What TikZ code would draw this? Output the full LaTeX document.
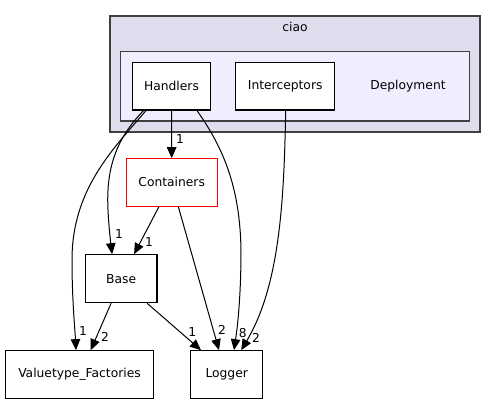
\documentclass[tikz,border=0pt]{standalone}
\usepackage{fontspec}
\setmainfont{DejaVu Sans}
\usetikzlibrary{arrows.meta}
\definecolor{clouter}{HTML}{DDDDEE}
\definecolor{clinner}{HTML}{EEEEFF}
\definecolor{clborder}{HTML}{404040}
\begin{document}
\begin{tikzpicture}[x=1pt,y=-1pt,
  font=\fontsize{12.3}{14}\selectfont,
  dirbox/.style={draw=black,line width=1.1pt,fill=white,inner sep=0pt,anchor=center},
  cluster/.style={draw=clborder,line width=1.2pt},
  edge/.style={draw=black,line width=1pt,-{Triangle[length=11pt,width=9.5pt]}},
  lbl/.style={inner sep=0pt,anchor=center}]
\useasboundingbox (0,0) rectangle (496,404);
% clusters
\node[cluster,fill=clouter,inner sep=0pt,minimum width=370pt,minimum height=116pt] (ciao) at (295,74) {};
\node[lbl] (ciaolbl) at (295,27) {ciao};
\node[cluster,fill=clinner,inner sep=0pt,minimum width=348.6pt,minimum height=69.3pt] (deploy) at (295,86.4) {};
\node[lbl] (deploylbl) at (408,86) {Deployment};
% nodes
\node[dirbox,minimum width=78.4pt,minimum height=47.7pt] (h) at (171.5,86.2) {Handlers};
\node[dirbox,minimum width=99pt,minimum height=47.7pt] (i) at (285.2,86.2) {Interceptors};
\node[dirbox,draw=red,minimum width=91.3pt,minimum height=47.3pt] (c) at (171.7,182.4) {Containers};
\node[dirbox,minimum width=71.7pt,minimum height=48pt] (b) at (121.1,278.7) {Base};
\node[dirbox,minimum width=148.4pt,minimum height=47.6pt] (v) at (79.5,374.5) {Valuetype\_Factories};
\node[dirbox,minimum width=72pt,minimum height=47.6pt] (l) at (226.7,374.5) {Logger};
% edges
\draw[edge] (h.south) -- (c.north);
\draw[edge] ([xshift=-25.5pt]h.south) .. controls (112,150) and (72,190) .. (72,260) .. controls (72,300) and (75,330) .. ([xshift=-3.5pt]v.north);
\draw[edge] ([xshift=-28pt]h.south) .. controls (115,140) and (106,170) .. (108,210) .. controls (109,230) and (111,245) .. ([xshift=-9pt]b.north);
\draw[edge] ([xshift=25.5pt]h.south) .. controls (225,150) and (240,190) .. (241,250) .. controls (241,300) and (237,330) .. ([xshift=7.3pt]l.north);
\draw[edge] ([xshift=0.5pt]i.south) .. controls (284,200) and (280,285) .. ([xshift=14.5pt]l.north);
\draw[edge] ([xshift=-12.7pt]c.south) -- ([xshift=13pt]b.north);
\draw[edge] ([xshift=6.6pt]c.south) -- ([xshift=-7.7pt]l.north);
\draw[edge] ([xshift=-10pt]b.south) -- ([xshift=11.2pt]v.north);
\draw[edge] ([xshift=26pt]b.south) -- ([xshift=-25.7pt]l.north);
% labels
\node[lbl] (l1) at (180,139) {1};
\node[lbl] (l2) at (83,331) {1};
\node[lbl] (l3) at (119,234) {1};
\node[lbl] (l4) at (242.7,333) {8};
\node[lbl] (l5) at (256,337.5) {2};
\node[lbl] (l6) at (149,242) {1};
\node[lbl] (l7) at (222,330) {2};
\node[lbl] (l8) at (105,337) {2};
\node[lbl] (l9) at (192.3,332) {1};
\end{tikzpicture}
\end{document}
